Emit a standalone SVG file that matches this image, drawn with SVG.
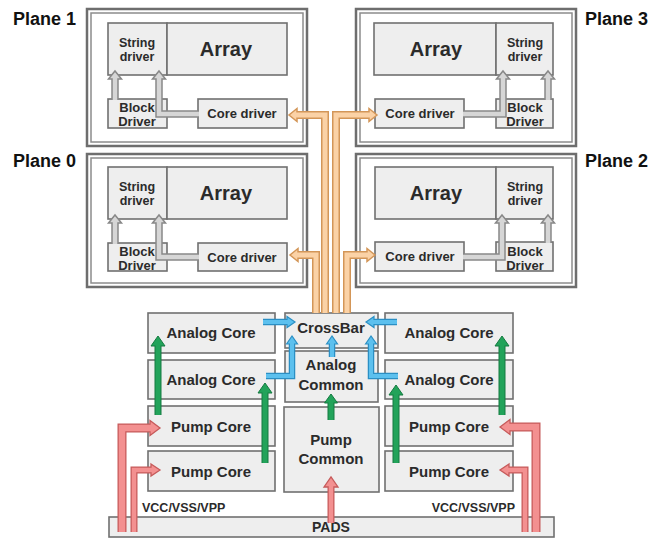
<svg xmlns="http://www.w3.org/2000/svg" width="661" height="549" viewBox="0 0 661 549">
<style>
.frameO{fill:#fff;stroke:#6e6e6e;stroke-width:2.5}
.frameI{fill:none;stroke:#8c8c8c;stroke-width:1.5}
.box{fill:#eeeeee;stroke:#707070;stroke-width:1.6}
.t{font-family:"Liberation Sans",Arial,sans-serif;font-weight:bold;fill:#2b2b2b;text-anchor:middle}
.lbl{font-family:"Liberation Sans",Arial,sans-serif;font-weight:bold;fill:#111;font-size:18px}
.s{font-size:12.5px}.c{font-size:13px}.a{font-size:20px}.m{font-size:15px}
.gO{fill:none;stroke:#888;stroke-width:7.5}
.gI{fill:none;stroke:#d6d6d6;stroke-width:4.5}
.gH{fill:#d6d6d6;stroke:#888;stroke-width:1.5}
.oO{fill:none;stroke:#d39658;stroke-width:8}
.oI{fill:none;stroke:#fbd2a6;stroke-width:5}
.oH{fill:#fbd2a6;stroke:#d39658;stroke-width:1.5}
.bO{fill:none;stroke:#2b8fc4;stroke-width:6.5}
.bI{fill:none;stroke:#5cc0ee;stroke-width:4}
.bH{fill:#5cc0ee;stroke:#2b8fc4;stroke-width:1.2}
.grO{fill:none;stroke:#147a40;stroke-width:7}
.grI{fill:none;stroke:#22a35a;stroke-width:5}
.grH{fill:#22a35a;stroke:#147a40;stroke-width:1}
.pO{fill:none;stroke:#c65a5a;stroke-width:9}
.pI{fill:none;stroke:#f39090;stroke-width:6.5}
.pO2{fill:none;stroke:#c65a5a;stroke-width:7}
.pI2{fill:none;stroke:#f39090;stroke-width:4.5}
.pH{fill:#f39090;stroke:#c65a5a;stroke-width:1.3}
</style>

<g id="plane1">
<rect class="frameO" x="87" y="9" width="220" height="137"/>
<rect class="frameI" x="91" y="13" width="212" height="129"/>
<rect class="box" x="108" y="23" width="59" height="52"/>
<rect class="box" x="167" y="23" width="120" height="52"/>
<rect class="box" x="108" y="99" width="59" height="29"/>
<rect class="box" x="198" y="99" width="89" height="29"/>
<text class="t s" x="137" y="47">String</text><text class="t s" x="137" y="61">driver</text>
<text class="t a" x="226" y="56">Array</text>
<text class="t c" x="137" y="112">Block</text><text class="t c" x="137" y="126">Driver</text>
<text class="t c" x="242" y="118">Core driver</text>
<text class="lbl" x="13" y="25">Plane 1</text>
</g>

<g id="plane3">
<rect class="frameO" x="356" y="9" width="220" height="137"/>
<rect class="frameI" x="360" y="13" width="212" height="129"/>
<rect class="box" x="374" y="23" width="122" height="52"/>
<rect class="box" x="496" y="23" width="57" height="52"/>
<rect class="box" x="375" y="99" width="89" height="29"/>
<rect class="box" x="496" y="99" width="57" height="29"/>
<text class="t a" x="436" y="56">Array</text>
<text class="t s" x="525" y="47">String</text><text class="t s" x="525" y="61">driver</text>
<text class="t c" x="420" y="118">Core driver</text>
<text class="t c" x="525" y="112">Block</text><text class="t c" x="525" y="126">Driver</text>
<text class="lbl" x="585" y="25">Plane 3</text>
</g>

<g id="plane0">
<rect class="frameO" x="87" y="154" width="220" height="133"/>
<rect class="frameI" x="91" y="158" width="212" height="125"/>
<rect class="box" x="108" y="167" width="59" height="52"/>
<rect class="box" x="167" y="167" width="120" height="52"/>
<rect class="box" x="108" y="243" width="59" height="28"/>
<rect class="box" x="198" y="243" width="89" height="28"/>
<text class="t s" x="137" y="191">String</text><text class="t s" x="137" y="205">driver</text>
<text class="t a" x="226" y="200">Array</text>
<text class="t c" x="137" y="256">Block</text><text class="t c" x="137" y="270">Driver</text>
<text class="t c" x="242" y="262">Core driver</text>
<text class="lbl" x="13" y="167">Plane 0</text>
</g>

<g id="plane2">
<rect class="frameO" x="356" y="154" width="220" height="133"/>
<rect class="frameI" x="360" y="158" width="212" height="125"/>
<rect class="box" x="375" y="167" width="121" height="52"/>
<rect class="box" x="496" y="167" width="57" height="52"/>
<rect class="box" x="375" y="242" width="89" height="29"/>
<rect class="box" x="496" y="242" width="57" height="29"/>
<text class="t a" x="436" y="200">Array</text>
<text class="t s" x="525" y="191">String</text><text class="t s" x="525" y="205">driver</text>
<text class="t c" x="420" y="261">Core driver</text>
<text class="t c" x="525" y="256">Block</text><text class="t c" x="525" y="270">Driver</text>
<text class="lbl" x="585" y="167">Plane 2</text>
</g>

<g id="analog-core-l1"><rect class="box" x="148" y="313" width="127" height="40"/><text class="t m" x="211" y="338">Analog Core</text></g>
<g id="analog-core-l2"><rect class="box" x="148" y="360" width="127" height="39"/><text class="t m" x="211" y="385">Analog Core</text></g>
<g id="pump-core-l1"><rect class="box" x="148" y="406" width="127" height="40"/><text class="t m" x="211" y="432">Pump Core</text></g>
<g id="pump-core-l2"><rect class="box" x="148" y="451" width="127" height="40"/><text class="t m" x="211" y="477">Pump Core</text></g>
<g id="crossbar"><rect class="box" x="285" y="313" width="93" height="35"/><text class="t m" x="331" y="333">CrossBar</text></g>
<g id="analog-common"><rect class="box" x="285" y="351" width="93" height="51"/><text class="t m" x="331" y="370">Analog</text><text class="t m" x="331" y="390">Common</text></g>
<g id="pump-common"><rect class="box" x="284" y="407" width="95" height="85"/><text class="t m" x="331" y="445">Pump</text><text class="t m" x="331" y="464">Common</text></g>
<g id="analog-core-r1"><rect class="box" x="385" y="313" width="128" height="40"/><text class="t m" x="449" y="338">Analog Core</text></g>
<g id="analog-core-r2"><rect class="box" x="385" y="360" width="128" height="39"/><text class="t m" x="449" y="385">Analog Core</text></g>
<g id="pump-core-r1"><rect class="box" x="385" y="406" width="128" height="40"/><text class="t m" x="449" y="432">Pump Core</text></g>
<g id="pump-core-r2"><rect class="box" x="385" y="451" width="128" height="40"/><text class="t m" x="449" y="477">Pump Core</text></g>
<g id="pads"><rect class="box" x="109" y="517" width="445" height="20"/><text class="t" style="font-size:14px" x="331" y="532">PADS</text></g>
<g id="labels">
<text class="t" style="font-size:12.5px;text-anchor:start" x="142" y="512">VCC/VSS/VPP</text>
<text class="t" style="font-size:12.5px;text-anchor:end" x="515" y="512">VCC/VSS/VPP</text>
</g>

<g id="connectors">
<path class="gO" d="M115 100V79"/><polygon class="gH" points="108.5,79 115,71 121.5,79"/><path class="gI" d="M115 100V77.5"/>
<path class="gO" d="M199 114H159V79"/><polygon class="gH" points="152.5,79 159,71 165.5,79"/><path class="gI" d="M199 114H159V77.5"/>
<path class="gO" d="M463 114H503V79"/><polygon class="gH" points="496.5,79 503,71 509.5,79"/><path class="gI" d="M463 114H503V77.5"/>
<path class="gO" d="M548 100V79"/><polygon class="gH" points="541.5,79 548,71 554.5,79"/><path class="gI" d="M548 100V77.5"/>
<path class="gO" d="M115 244V223"/><polygon class="gH" points="108.5,223 115,215 121.5,223"/><path class="gI" d="M115 244V221.5"/>
<path class="gO" d="M199 257H159V223"/><polygon class="gH" points="152.5,223 159,215 165.5,223"/><path class="gI" d="M199 257H159V221.5"/>
<path class="gO" d="M463 257H502V223"/><polygon class="gH" points="495.5,223 502,215 508.5,223"/><path class="gI" d="M463 257H502V221.5"/>
<path class="gO" d="M548 243V223"/><polygon class="gH" points="541.5,223 548,215 554.5,223"/><path class="gI" d="M548 243V221.5"/>
<path class="oO" d="M325 313V115H297"/><polygon class="oH" points="297,108.5 289,115 297,121.5"/><path class="oI" d="M325 313V115H295.5"/>
<path class="oO" d="M336 313V115H369"/><polygon class="oH" points="369,108.5 377,115 369,121.5"/><path class="oI" d="M336 313V115H370.5"/>
<path class="oO" d="M316 313V255H298"/><polygon class="oH" points="298,248.5 290,255 298,261.5"/><path class="oI" d="M316 313V255H296.5"/>
<path class="oO" d="M347 313V255H367"/><polygon class="oH" points="367,248.5 375,255 367,261.5"/><path class="oI" d="M347 313V255H368.5"/>
<path class="bO" d="M263 322H287"/><polygon class="bH" points="287,316.5 295,322 287,327.5"/><path class="bI" d="M263 322H288.5"/>
<path class="bO" d="M266 376H292V344"/><polygon class="bH" points="286.5,344 292,336 297.5,344"/><path class="bI" d="M266 376H292V342.5"/>
<path class="bO" d="M332 357V344"/><polygon class="bH" points="326.5,344 332,336 337.5,344"/><path class="bI" d="M332 357V342.5"/>
<path class="bO" d="M397 322H374"/><polygon class="bH" points="374,316.5 366,322 374,327.5"/><path class="bI" d="M397 322H372.5"/>
<path class="bO" d="M398 376H371V344"/><polygon class="bH" points="365.5,344 371,336 376.5,344"/><path class="bI" d="M398 376H371V342.5"/>
<path class="grO" d="M158 415V346"/><polygon class="grH" points="151,346 158,336 165,346"/><path class="grI" d="M158 415V344.5"/>
<path class="grO" d="M265 463V393"/><polygon class="grH" points="258,393 265,383 272,393"/><path class="grI" d="M265 463V391.5"/>
<path class="grO" d="M502 415V346"/><polygon class="grH" points="495,346 502,336 509,346"/><path class="grI" d="M502 415V344.5"/>
<path class="grO" d="M396 463V395"/><polygon class="grH" points="389,395 396,385 403,395"/><path class="grI" d="M396 463V393.5"/>
<path class="grO" d="M331 420V403"/><polygon class="grH" points="324.5,403 331,394 337.5,403"/><path class="grI" d="M331 420V401.5"/>
<path class="pO" d="M122 532V428H150"/><polygon class="pH" points="150,420.5 160,428 150,435.5"/><path class="pI" d="M122 532V428H151.5"/>
<path class="pO2" d="M134 532V470H151"/><polygon class="pH" points="151,464 160,470 151,476"/><path class="pI2" d="M134 532V470H152.5"/>
<path class="pO" d="M536 532V427H510"/><polygon class="pH" points="510,419.5 500,427 510,434.5"/><path class="pI" d="M536 532V427H508.5"/>
<path class="pO2" d="M525 532V470H509"/><polygon class="pH" points="509,464 500,470 509,476"/><path class="pI2" d="M525 532V470H507.5"/>
<path class="pO2" d="M331 523V487"/><polygon class="pH" points="324,487 331,477 338,487"/><path class="pI2" d="M331 523V485.5"/>
</g>
</svg>
